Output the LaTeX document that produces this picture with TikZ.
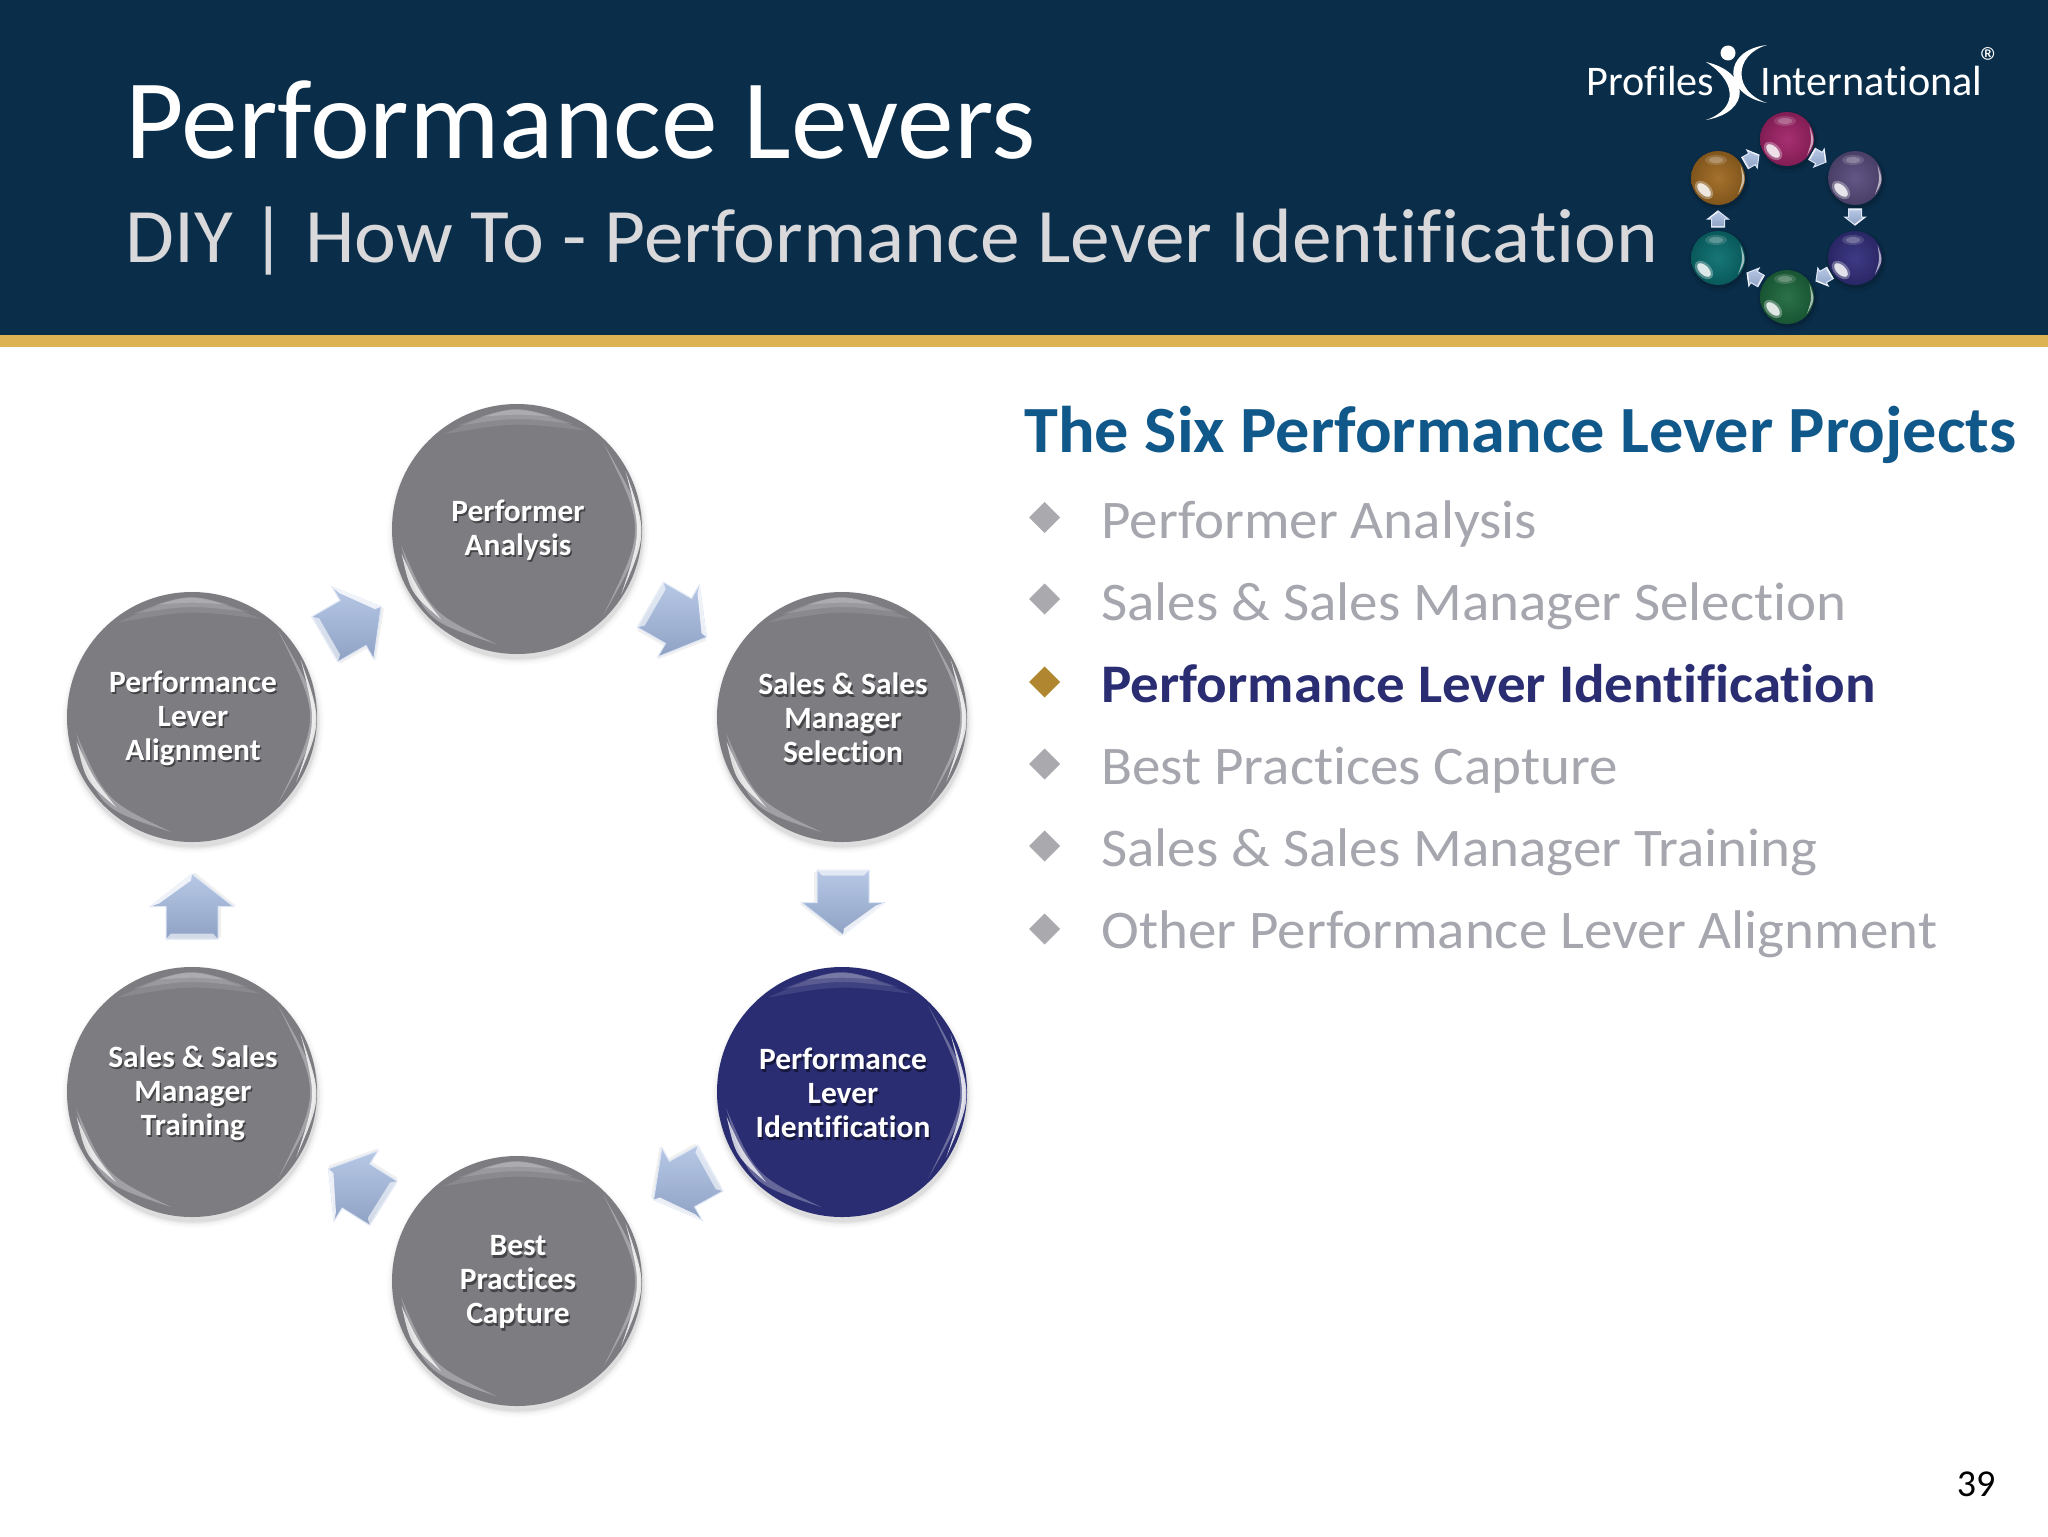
\documentclass[tikz,border=0pt]{standalone}
\usepackage{fontspec}
\usepackage{graphicx}
\setmainfont[Ligatures=NoCommon]{Carlito}
\usetikzlibrary{calc}
\definecolor{hdr}{HTML}{0A2D49}
\definecolor{gold}{HTML}{DCB253}
\definecolor{orbgray}{HTML}{7D7C81}
\definecolor{orbnavy}{HTML}{2A2D72}
\definecolor{headblue}{HTML}{10588A}
\definecolor{bulgray}{HTML}{A5A6AE}
\definecolor{diagray}{HTML}{A9A9AE}
\definecolor{diagold}{HTML}{B08630}
\definecolor{subgray}{HTML}{D9D9DC}
\definecolor{A1}{HTML}{DDE6F5}
\definecolor{A3}{HTML}{B7C8E6}
\definecolor{A4}{HTML}{8FA2C4}
\definecolor{bmag}{HTML}{A2246A}
\definecolor{bpur}{HTML}{5A4E80}
\definecolor{bind}{HTML}{34307F}
\definecolor{bgrn}{HTML}{1F6A3F}
\definecolor{btea}{HTML}{0B6F70}
\definecolor{bora}{HTML}{A06A22}
\tikzset{
  orbbody/.style={circle,inner sep=0pt,minimum size=125pt,draw=none},
  orbtext/.style={align=center,inner sep=0pt,font=\fontsize{15.5}{17}\selectfont\bfseries\addfontfeatures{FakeStretch=1.015},text=white},
  orbshadow/.style={orbtext,text=black,text opacity=.45},
  bullet/.style={anchor=base west,inner sep=0pt,text=bulgray,font=\fontsize{27.2}{30}\selectfont\addfontfeatures{FakeStretch=1.048}},
}
% crescent: colour, opacity, a1, a2, R at ends, outer control, inner control
\newcommand\cres[7]{\fill[#1,opacity=#2] (#3:#5) .. controls ({(#3+#4)/2}:#6) .. (#4:#5) .. controls ({(#3+#4)/2}:#7) .. (#3:#5);}
% big orb: name, x, y, colour, text
\newcommand\orb[5]{%
  \foreach \rr/\oo in {131/.015,129/.025,127/.04,125.5/.06}{\fill[black,opacity=\oo] (#2+1,#3+5) circle[radius=\rr];}
  \node[orbbody,fill=#4] (#1) at (#2,#3) {};
  \begin{scope}[shift={(#2,#3)}]
    \cres{white}{.10}{-128}{-55}{120}{126.5}{107}
    \cres{white}{.14}{-120}{-62}{119}{125}{112}
    \cres{white}{.18}{-108}{-72}{118}{122.2}{115}
    \cres{white}{.28}{100}{172}{117}{131}{120.4}
    \cres{white}{.75}{130}{168}{118}{124.2}{116.2}
    \cres{white}{.3}{-45}{45}{122}{135.3}{128.7}
    \cres{white}{.8}{-28}{32}{123}{130.5}{124.5}
  \end{scope}
  \node[orbshadow] (#1-s) at (#2+2.5,#3+3.5) {#5};
  \node[orbtext] (#1-t) at (#2+1,#3+1) {#5};
}
% block arrow: cx, cy, rotation, scale
\newcommand\barrow[4]{%
  \begin{scope}[shift={(#1,#2)},rotate=#3,scale=#4]
    \fill[black,opacity=.06] (-31,-22) -- (1,-22) -- (1,-38) -- (34,3) -- (1,44) -- (1,29) -- (-31,29) -- cycle;
    \shade[top color=A3,bottom color=A4,draw=A1,line width=.5pt] (-32.5,-26) -- (0,-26) -- (0,-41.5) -- (32.5,0) -- (0,41.5) -- (0,26) -- (-32.5,26) -- cycle;
    \fill[white,opacity=.8] (0,-41.5) -- (32.5,0) -- (26,-1) -- (3,-33) -- cycle;
    \fill[white,opacity=.6] (-32.5,26) -- (-32.5,-26) -- (-27,-21) -- (-27,21) -- cycle;
  \end{scope}
}
% logo bead: name, x, y, colour
\newcommand\bead[4]{%
  \fill[black,opacity=.06] (#2+1,#3+3) circle[radius=31];
  \fill[black,opacity=.12] (#2+1,#3+2) circle[radius=28.5];
  \shade[inner color=#4!95!white,outer color=#4!80!black] (#2,#3) circle[radius=27];
  \coordinate (#1) at (#2,#3);
  \begin{scope}[shift={(#2,#3)}]
    \fill[white,opacity=.14] (-2,-18) ellipse[x radius=11,y radius=5];
    \fill[white,opacity=.22] (-2,-18) ellipse[x radius=7,y radius=3];
    \fill[white,opacity=.3,rotate around={45:(-14,12)}] (-14,12) ellipse[x radius=7,y radius=11];
    \fill[white,opacity=.8,rotate around={45:(-14,12)}] (-14,12) ellipse[x radius=4.5,y radius=8.5];
    \cres{white}{.6}{-30}{40}{26}{28.2}{24.9}
  \end{scope}
}
\newcommand\dia[3]{\fill[#3] (#1-15.5,#2) -- (#1,#2-15.5) -- (#1+15.5,#2) -- (#1,#2+15.5) -- cycle;}
\begin{document}
\begin{tikzpicture}[x=.5pt,y=-.5pt]
\useasboundingbox (0,0) rectangle (2048,1536);
\fill[white] (0,0) rectangle (2048,1536);
% header
\fill[hdr] (0,0) rectangle (2048,335);
\fill[gold] (0,335) rectangle (2048,347);
\node[anchor=base west,inner sep=0pt,text=white,font=\fontsize{56.7}{60}\selectfont] (title) at (125,158) {Performance Levers};
\node[anchor=base west,inner sep=0pt,text=subgray,font=\fontsize{38.5}{40}\selectfont\addfontfeatures{FakeStretch=1.031}] (subtitle) at (125,262) {DIY | How To - Performance Lever Identification};
% logo
\node[anchor=base west,inner sep=0pt,text=white,font=\fontsize{21.1}{24}\selectfont] (lg1) at (1586,95.5) {Profiles};
\node[anchor=base west,inner sep=0pt,text=white,font=\fontsize{21.1}{24}\selectfont] (lg2) at (1760,95.5) {International};
\node[anchor=center,inner sep=0pt,text=white,font=\fontsize{21}{24}\selectfont] (lg3) at (1991,62) {®};
\fill[white] (1728,53) circle[radius=7.5];
\fill[white] (1767,45) .. controls (1722,50) and (1722,95) .. (1767,103) .. controls (1733,92) and (1733,55) .. (1767,45) -- cycle;
\fill[white] (1706,62) .. controls (1750,72) and (1752,112) .. (1706,120) .. controls (1740,108) and (1735,80) .. (1706,62) -- cycle;
% beads
\bead{b1}{1787}{139}{bmag}
\bead{b2}{1855}{178}{bpur}
\bead{b3}{1855}{258}{bind}
\bead{b4}{1787}{297}{bgrn}
\bead{b5}{1718}{258}{btea}
\bead{b6}{1718}{178}{bora}
\barrow{1819}{158}{-30}{.25}
\barrow{1855}{217}{-90}{.25}
\barrow{1823}{277}{-150}{.25}
\barrow{1754}{277}{150}{.25}
\barrow{1718}{219}{90}{.25}
\barrow{1752}{159}{30}{.25}
% cycle
\orb{pa}{517}{529}{orbgray}{Performer\\Analysis}
\orb{ss}{842}{717}{orbgray}{Sales \& Sales\\Manager\\Selection}
\orb{pi}{842}{1092}{orbnavy}{Performance\\Lever\\Identification}
\orb{bp}{517}{1281}{orbgray}{Best\\Practices\\Capture}
\orb{st}{192}{1092}{orbgray}{Sales \& Sales\\Manager\\Training}
\orb{pl}{192}{717}{orbgray}{Performance\\Lever\\Alignment}
\barrow{678.5}{621}{-30}{1}
\barrow{843}{902.5}{-90}{1}
\barrow{682}{1184}{-151}{1}
\barrow{356}{1186}{148}{1}
\barrow{192}{906.5}{90}{1}
\barrow{353}{623}{30}{1}
% list
\node[anchor=base west,inner sep=0pt,text=headblue,font=\fontsize{33}{36}\selectfont\bfseries\addfontfeatures{FakeStretch=1.035}] (head) at (1024,452.7) {The Six Performance Lever Projects};
\dia{1044.5}{517.5}{diagray}
\dia{1044.5}{599}{diagray}
\dia{1044.5}{682}{diagold}
\dia{1044.5}{764}{diagray}
\dia{1044.5}{846}{diagray}
\dia{1044.5}{929}{diagray}
\node[bullet] (l1) at (1101,538.5) {Performer Analysis};
\node[bullet] (l2) at (1101,620.2) {Sales \& Sales Manager Selection};
\node[bullet,text=orbnavy,font=\fontsize{27.2}{30}\selectfont\bfseries\addfontfeatures{FakeStretch=1.048}] (l3) at (1101,702.2) {Performance Lever Identification};
\node[bullet] (l4) at (1101,784.2) {Best Practices Capture};
\node[bullet] (l5) at (1101,866.2) {Sales \& Sales Manager Training};
\node[bullet] (l6) at (1101,948.2) {Other Performance Lever Alignment};
\node[anchor=base,inner sep=0pt,text=black,font=\fontsize{19}{20}\selectfont] (pg) at (1976,1496) {39};
\end{tikzpicture}
\end{document}
